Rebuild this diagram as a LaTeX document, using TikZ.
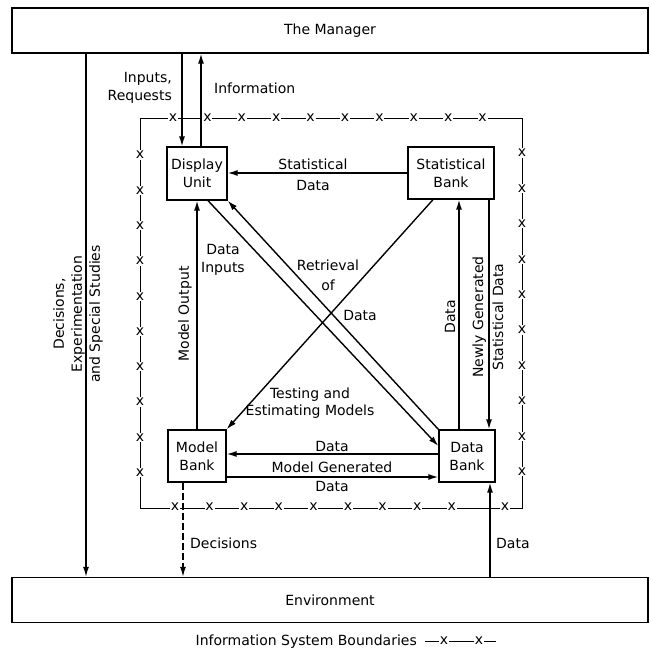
\documentclass[tikz,border=0pt]{standalone}
\usepackage{fontspec}
\setmainfont{DejaVu Sans}
\usetikzlibrary{arrows.meta}

\tikzset{
  unit/.style={draw,line width=1.3pt,align=center,inner sep=1pt},
  band/.style={draw,line width=1.3pt,minimum width=636pt,minimum height=45pt},
  flow/.style={line width=1.4pt,-{Latex[length=10pt,width=6pt]}},
  lbl/.style={align=center,inner sep=1pt},
  cross/.style={fill=white,inner sep=0.8pt,font=\fontsize{14}{14}\selectfont},
  bound/.style={line width=1pt}
}

\begin{document}
\begin{tikzpicture}[x=1pt,y=-1pt,font=\fontsize{14}{18}\selectfont]
\useasboundingbox (0,0) rectangle (650,660);
% manager and environment
\node[band] (mgr) at (330,30.5) {The Manager};
\node[band] (env) at (330,600) {Environment};
% information system boundary
\draw[bound] (140,119) rectangle (522,508);
\foreach \i in {0,...,9} {
  \node[cross] (xt\i) at (173+34.4*\i,118) {x};
  \node[cross] (xl\i) at (140,155+35.3*\i) {x};
  \node[cross] (xr\i) at (522,153+35.4*\i) {x};
}
\foreach \i in {0,...,8}
  \node[cross] (xb\i) at (175+34.6*\i,507) {x};
\node[cross] (xb9) at (505,507) {x};
% the four units
\node[unit,minimum width=60pt,minimum height=53pt] (disp) at (197,173.5) {Display\\Unit};
\node[unit,minimum width=86pt,minimum height=52pt] (stat) at (451,173) {Statistical\\Bank};
\node[unit,minimum width=58pt,minimum height=52pt] (model) at (197,456) {Model\\Bank};
\node[unit,minimum width=56pt,minimum height=52pt] (dbank) at (467,456) {Data\\Bank};
% manager <-> display unit
\coordinate (inq) at ([xshift=-15pt]disp.north);
\coordinate (info) at ([xshift=4pt]disp.north);
\draw[flow] (inq |- mgr.south) -- (inq);
\draw[flow] (info) -- (info |- mgr.south);
\node[lbl,align=right,anchor=east] (inlbl) at (173,88) {Inputs,\\Requests};
\node[lbl,anchor=west] (infolbl) at (213,88) {Information};
% manager -> environment
\coordinate (lft) at (86,300);
\draw[flow] (lft |- mgr.south) -- (lft |- env.north);
\node[lbl,rotate=90] (declbl) at (78,314) {Decisions,\\Experimentation\\and Special Studies};
% statistical bank -> display unit
\draw[flow] (stat.west) -- (stat.west -| disp.east);
\node[lbl] (sdlbl) at (313,175) {Statistical\\[3pt]Data};
% model bank -> display unit
\draw[flow] (model.north) -- (disp.south);
\node[lbl,rotate=90] (molbl) at (185,314) {Model Output};
% display unit <-> data bank
\draw[flow] ([xshift=11pt]disp.south) -- ([yshift=10pt]dbank.west);
\draw[flow] (dbank.north west) -- (disp.south east);
\node[lbl] (dilbl) at (223,260) {Data\\Inputs};
\node[lbl] (rtlbl) at (328,275) {Retrieval\\[2pt]of};
\node[lbl] (rdlbl) at (360,315) {Data};
% statistical bank -> model bank
\draw[flow] ([xshift=-18pt]stat.south) -- (model.north east);
\node[lbl] (tslbl) at (310,403.5) {Testing and\\[-1pt]Estimating Models};
% data bank <-> statistical bank
\coordinate (dup) at ([xshift=-8pt]dbank.north);
\coordinate (ddn) at ([xshift=22pt]dbank.north);
\draw[flow] (dup) -- (dup |- stat.south);
\draw[flow] (ddn |- stat.south) -- (ddn);
\node[lbl,rotate=90] (dulbl) at (450,317) {Data};
\node[lbl,rotate=90] (nglbl) at (488,317) {Newly Generated\\[2pt]Statistical Data};
% data bank <-> model bank
\draw[flow] ([yshift=2pt]dbank.west) -- ([yshift=2pt]dbank.west -| model.east);
\draw[flow] ([yshift=-21pt]model.east) -- ([yshift=-21pt]model.east -| dbank.west);
\node[lbl] (dmlbl) at (332,446) {Data};
\node[lbl] (mglbl) at (332,476.5) {Model Generated\\[1pt]Data};
% to and from the environment
\coordinate (dec) at ([xshift=-14pt]model.south);
\coordinate (din) at ([xshift=23pt]dbank.south);
\draw[flow,dash pattern=on 7pt off 3pt] (dec) -- (dec |- env.north);
\draw[flow] (din |- env.north) -- (din);
\node[lbl,anchor=west] (dclbl) at (189,543) {Decisions};
\node[lbl,anchor=west] (delbl) at (495,543) {Data};
% legend
\node[lbl,anchor=east] (leg) at (418,642) {Information System Boundaries};
\draw[bound] (425,641) -- (496,641);
\node[cross] (lx1) at (444,641) {x};
\node[cross] (lx2) at (479,641) {x};
\end{tikzpicture}
\end{document}
